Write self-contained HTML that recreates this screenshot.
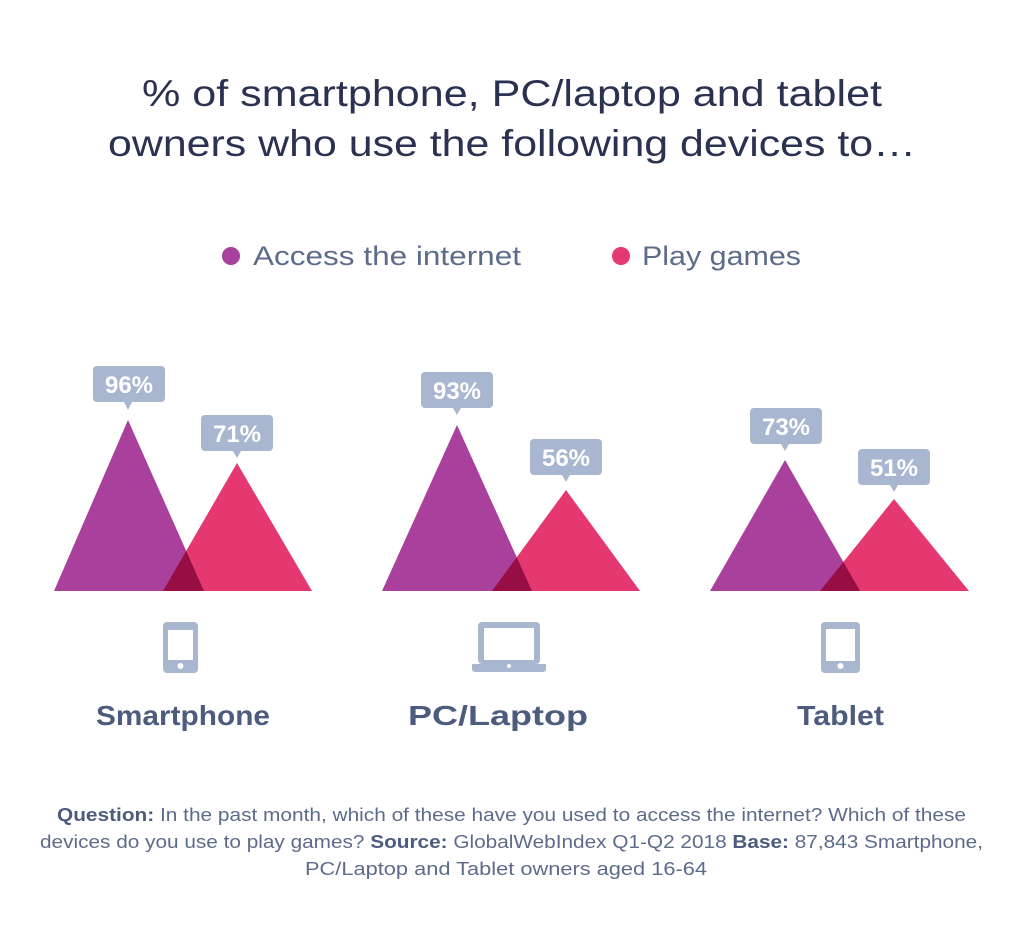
<!DOCTYPE html>
<html><head><meta charset="utf-8"><style>
html,body{margin:0;padding:0;background:#fff;}
svg{display:block;font-family:"Liberation Sans",sans-serif;}
</style></head><body>
<svg width="1024" height="950" viewBox="0 0 1024 950">
<g fill="#2b3150" font-size="37" text-anchor="middle">
<text x="512" y="106" textLength="740" lengthAdjust="spacingAndGlyphs">% of smartphone, PC/laptop and tablet</text>
<text x="512" y="156" textLength="808" lengthAdjust="spacingAndGlyphs">owners who use the following devices to…</text>
</g>
<circle cx="231" cy="256" r="9" fill="#a8409c"/>
<text x="253" y="265" font-size="27" fill="#5d6b8a" textLength="268" lengthAdjust="spacingAndGlyphs">Access the internet</text>
<circle cx="621" cy="256" r="9" fill="#e63870"/>
<text x="642" y="265" font-size="27" fill="#5d6b8a" textLength="159" lengthAdjust="spacingAndGlyphs">Play games</text>

<g>
<polygon points="54,591 128,420 204,591" fill="#a8409c"/>
<polygon points="163,591 237,463 312,591" fill="#e63870" style="mix-blend-mode:multiply"/>
<polygon points="382,591 457,425 532,591" fill="#a8409c"/>
<polygon points="492,591 566,490 640,591" fill="#e63870" style="mix-blend-mode:multiply"/>
<polygon points="710,591 785,460 860,591" fill="#a8409c"/>
<polygon points="820,591 894,499 969,591" fill="#e63870" style="mix-blend-mode:multiply"/>
</g>

<g fill="#a9b6d0">
<rect x="93" y="366" width="72" height="36" rx="4"/><polygon points="124,402 132,402 128,410"/>
<rect x="201" y="415" width="72" height="36" rx="4"/><polygon points="233,451 241,451 237,458"/>
<rect x="421" y="372" width="72" height="36" rx="4"/><polygon points="453,408 461,408 457,415"/>
<rect x="530" y="439" width="72" height="36" rx="4"/><polygon points="562,475 570,475 566,482"/>
<rect x="750" y="408" width="72" height="36" rx="4"/><polygon points="781,444 789,444 785,451"/>
<rect x="858" y="449" width="72" height="36" rx="4"/><polygon points="890,485 898,485 894,492"/>
</g>
<g fill="#fff" font-size="24" font-weight="bold" text-anchor="middle">
<text x="129" y="393">96%</text>
<text x="237" y="442">71%</text>
<text x="457" y="399">93%</text>
<text x="566" y="466">56%</text>
<text x="786" y="435">73%</text>
<text x="894" y="476">51%</text>
</g>

<g fill="#a9b6d0">
<rect x="163" y="622" width="35" height="51" rx="4"/>
<rect x="168" y="630" width="25" height="30" fill="#fff"/>
<circle cx="180.5" cy="666" r="3" fill="#fff"/>
<rect x="478" y="622" width="62" height="42" rx="4"/>
<rect x="484" y="628" width="50" height="32" fill="#fff"/>
<path d="M472 664 H546 V669 Q546 672 542 672 H476 Q472 672 472 669 Z"/>
<circle cx="509" cy="666" r="2" fill="#fff"/>
<rect x="821" y="622" width="39" height="51" rx="4"/>
<rect x="826" y="629" width="29" height="32" fill="#fff"/>
<circle cx="840.5" cy="666" r="3" fill="#fff"/>
</g>
<g fill="#4d5b7e" font-size="28" font-weight="bold">
<text x="96" y="725" textLength="174" lengthAdjust="spacingAndGlyphs">Smartphone</text>
<text x="408" y="725" textLength="180" lengthAdjust="spacingAndGlyphs">PC/Laptop</text>
<text x="797" y="725" textLength="87" lengthAdjust="spacingAndGlyphs">Tablet</text>
</g>

<g fill="#5d6b8a" font-size="18">
<text x="57" y="821" textLength="909" lengthAdjust="spacingAndGlyphs"><tspan font-weight="bold" fill="#4d5b7e">Question:</tspan> In the past month, which of these have you used to access the internet? Which of these</text>
<text x="40" y="848" textLength="943" lengthAdjust="spacingAndGlyphs">devices do you use to play games? <tspan font-weight="bold" fill="#4d5b7e">Source:</tspan> GlobalWebIndex Q1-Q2 2018 <tspan font-weight="bold" fill="#4d5b7e">Base:</tspan> 87,843 Smartphone,</text>
<text x="305" y="875" textLength="402" lengthAdjust="spacingAndGlyphs">PC/Laptop and Tablet owners aged 16-64</text>
</g>
</svg>
</body></html>
